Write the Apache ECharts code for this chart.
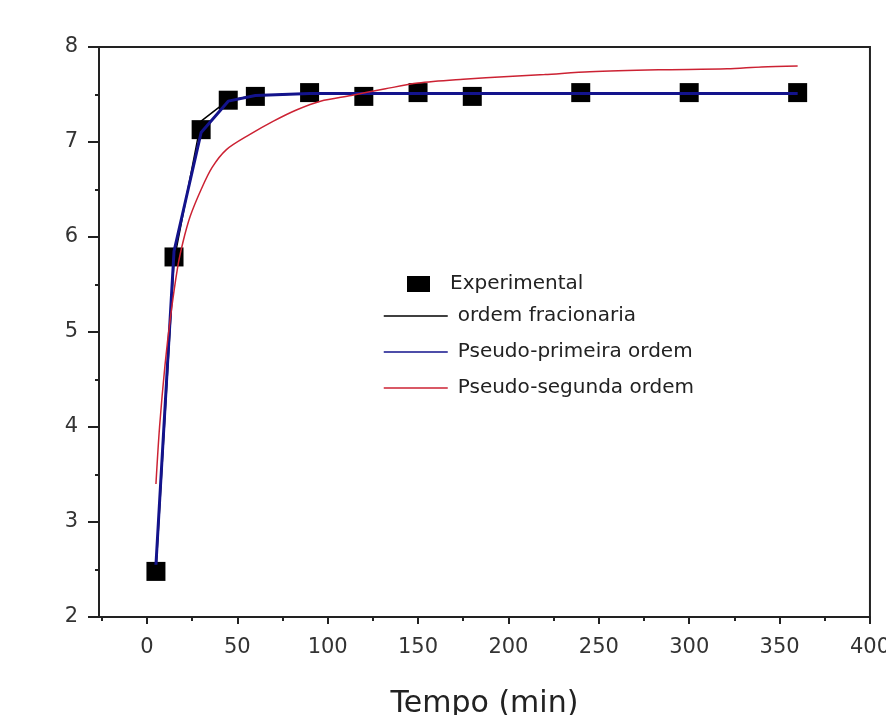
<!DOCTYPE html>
<html>
<head>
<meta charset="utf-8">
<script src="https://cdn.jsdelivr.net/npm/echarts@6/dist/echarts.min.js"></script>
<style>
  html, body { margin: 0; padding: 0; background: #fff; }
  #chart { width: 893px; height: 724px; }
</style>
</head>
<body>
<div id="chart"></div>
<script>
// tempo (min) dos pontos experimentais
const tempoExp = [5, 15, 30, 45, 60, 90, 120, 150, 180, 240, 300, 360];
const qExperimental = [2.48, 5.79, 7.13, 7.44, 7.48, 7.52, 7.48, 7.52, 7.48, 7.52, 7.52, 7.52];
const qFracionaria = [2.48, 5.75, 7.22, 7.44, 7.49, 7.51, 7.51, 7.51, 7.51, 7.51, 7.51, 7.51];
const qPrimeira = [2.55, 5.85, 7.10, 7.43, 7.49, 7.51, 7.51, 7.51, 7.51, 7.51, 7.51, 7.51];

const tempoSegunda = [5, 7, 10, 13, 17, 20, 24, 30, 36, 44, 57, 70, 83, 96, 113, 132, 150, 175, 200, 220, 245, 283, 321, 340, 360];
const qSegunda = [3.4, 4.0, 4.65, 5.15, 5.68, 5.95, 6.22, 6.5, 6.73, 6.92, 7.08, 7.22, 7.34, 7.43, 7.49, 7.56, 7.62, 7.66, 7.69, 7.71, 7.74, 7.76, 7.77, 7.79, 7.80];

const xTicks = [0, 50, 100, 150, 200, 250, 300, 350, 400];
const xMinorTicks = [-25, 25, 75, 125, 175, 225, 275, 325, 375];

const pairs = (xs, ys) => xs.map((x, i) => [x, ys[i]]);

const font = 'DejaVu Sans';
const ink = '#222';

const chart = echarts.init(document.getElementById('chart'));

chart.setOption({
  backgroundColor: '#fff',
  animation: false,
  grid: {
    left: 99, right: 20, top: 47, bottom: 94,
    show: true, borderColor: ink, borderWidth: 2
  },
  legend: [
    {
      data: ['Experimental'],
      left: 407, top: 274, padding: 0,
      itemWidth: 23, itemHeight: 16,
      icon: 'rect',
      textStyle: { fontFamily: font, fontSize: 20, color: ink, padding: [0, 0, 0, 15] }
    },
    {
      data: ['ordem fracionaria', 'Pseudo-primeira ordem', 'Pseudo-segunda ordem'],
      orient: 'vertical',
      left: 383, top: 306, padding: 0,
      itemWidth: 64, itemHeight: 14, itemGap: 16,
      itemStyle: { opacity: 0 },
      lineStyle: { width: 1.5 },
      textStyle: { fontFamily: font, fontSize: 20, color: ink, padding: [0, 0, 0, 5] }
    }
  ],
  xAxis: [
    {
      type: 'value', min: -26.5, max: 400, position: 'bottom',
      name: 'Tempo (min)', nameLocation: 'middle', nameGap: 72,
      nameTextStyle: { fontFamily: font, fontSize: 30, color: ink },
      axisLine: { onZero: false, lineStyle: { color: ink, width: 2 } },
      axisTick: { customValues: xTicks, length: 7, lineStyle: { color: ink, width: 2 } },
      axisLabel: { customValues: xTicks, margin: 20, fontFamily: font, fontSize: 21, color: '#333' },
      splitLine: { show: false }
    },
    {
      type: 'value', min: -26.5, max: 400, position: 'bottom', offset: 0,
      axisLine: { show: false, onZero: false },
      axisTick: { customValues: xMinorTicks, length: 4, lineStyle: { color: ink, width: 2 } },
      axisLabel: { show: false },
      splitLine: { show: false }
    }
  ],
  yAxis: {
    type: 'value', min: 2, max: 8, interval: 1,
    axisLine: { show: true, onZero: false, lineStyle: { color: ink, width: 2 } },
    axisTick: { show: true, length: 11, lineStyle: { color: ink, width: 2 } },
    minorTick: { show: true, splitNumber: 2, length: 4, lineStyle: { color: ink, width: 2 } },
    axisLabel: { margin: 21, fontFamily: font, fontSize: 21, color: '#333' },
    splitLine: { show: false }
  },
  series: [
    {
      name: 'Experimental',
      type: 'scatter',
      symbol: 'rect',
      symbolSize: 19,
      itemStyle: { color: '#000', opacity: 1 },
      data: pairs(tempoExp, qExperimental),
      z: 1
    },
    {
      name: 'ordem fracionaria',
      type: 'line',
      symbol: 'none',
      lineStyle: { color: '#000', width: 1.5 },
      itemStyle: { color: '#000' },
      data: pairs(tempoExp, qFracionaria),
      z: 2
    },
    {
      name: 'Pseudo-primeira ordem',
      type: 'line',
      symbol: 'none',
      lineStyle: { color: '#13138c', width: 3 },
      itemStyle: { color: '#13138c' },
      data: pairs(tempoExp, qPrimeira),
      z: 3
    },
    {
      name: 'Pseudo-segunda ordem',
      type: 'line',
      symbol: 'none',
      smooth: 0.3,
      lineStyle: { color: '#cc2233', width: 1.5 },
      itemStyle: { color: '#cc2233' },
      data: pairs(tempoSegunda, qSegunda),
      z: 4
    }
  ]
});
</script>
</body>
</html>
